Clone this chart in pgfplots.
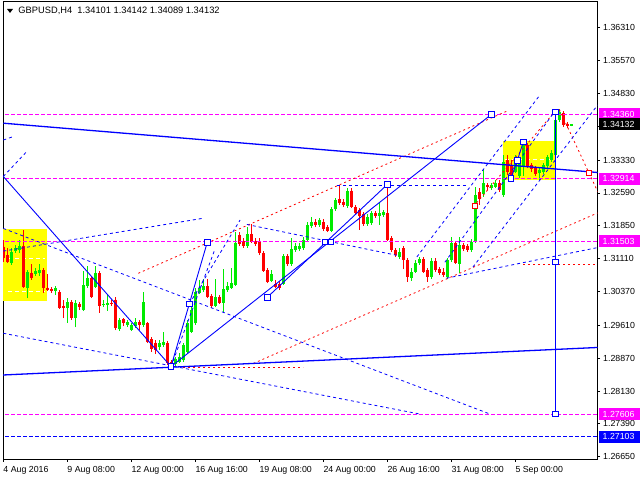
\documentclass[border=0pt]{standalone}
\usepackage{pgfplots}
\pgfplotsset{compat=1.18}
\usepackage{pgfplotstable}
\usepackage{fontspec}
\setmainfont{Liberation Sans}
\newcommand\mtfont{\fontsize{8.8bp}{10bp}\selectfont}
\newcommand\ttlfont{\fontsize{9.3bp}{10bp}\selectfont}
\definecolor{bull}{RGB}{0,235,0}
\definecolor{bear}{RGB}{255,0,0}
\definecolor{mag}{RGB}{255,0,255}
\definecolor{mtblue}{RGB}{0,0,255}
\definecolor{mtyellow}{RGB}{255,255,0}

\pgfplotstableread{
i o h l c
2 1.3101 1.3135 1.3097 1.3127
3 1.3128 1.3142 1.3124 1.3136
4 1.3131 1.3153 1.3124 1.3140
6 1.3046 1.3085 1.3022 1.3080
8 1.3077 1.3090 1.3072 1.3083
9 1.3079 1.3099 1.3072 1.3085
13 1.3038 1.3049 1.3029 1.3046
16 1.2999 1.3022 1.2966 1.3014
18 1.2978 1.3018 1.2956 1.3011
20 1.2995 1.3083 1.2993 1.3052
21 1.3049 1.3095 1.3045 1.3068
23 1.3048 1.3095 1.3045 1.3079
25 1.3007 1.3018 1.3002 1.3010
26 1.3007 1.3029 1.2994 1.3012
29 1.2952 1.2977 1.2948 1.2973
31 1.2962 1.2973 1.2957 1.2969
32 1.2950 1.2966 1.2948 1.2961
33 1.2959 1.2977 1.2955 1.2969
35 1.2962 1.3035 1.2957 1.3014
39 1.2911 1.2928 1.2905 1.2922
40 1.2917 1.2946 1.2912 1.2924
43 1.2874 1.2890 1.2869 1.2884
44 1.2879 1.2899 1.2876 1.2890
45 1.2883 1.2921 1.2878 1.2917
46 1.2901 1.2973 1.2899 1.2965
47 1.2946 1.3007 1.2944 1.2995
48 1.2965 1.3045 1.2962 1.3037
49 1.3034 1.3063 1.3031 1.3046
50 1.3040 1.3065 1.3036 1.3049
53 1.3004 1.3065 1.3002 1.3025
55 1.3012 1.3087 1.2989 1.3042
56 1.3040 1.3059 1.3036 1.3049
57 1.3046 1.3090 1.3043 1.3057
58 1.3052 1.3172 1.3049 1.3146
61 1.3140 1.3183 1.3135 1.3167
67 1.3061 1.3085 1.3058 1.3076
70 1.3055 1.3122 1.3052 1.3117
72 1.3099 1.3157 1.3095 1.3132
73 1.3131 1.3146 1.3126 1.3140
74 1.3132 1.3146 1.3128 1.3140
75 1.3134 1.3160 1.3131 1.3153
76 1.3153 1.3193 1.3149 1.3187
77 1.3185 1.3205 1.3180 1.3194
79 1.3187 1.3203 1.3182 1.3198
82 1.3174 1.3227 1.3171 1.3222
83 1.3222 1.3248 1.3218 1.3242
86 1.3230 1.3270 1.3225 1.3264
91 1.3189 1.3212 1.3185 1.3205
92 1.3191 1.3218 1.3187 1.3213
94 1.3208 1.3236 1.3187 1.3213
95 1.3209 1.3221 1.3205 1.3215
99 1.3114 1.3134 1.3110 1.3127
102 1.3067 1.3090 1.3061 1.3082
103 1.3082 1.3108 1.3079 1.3102
104 1.3101 1.3115 1.3097 1.3110
107 1.3070 1.3113 1.3065 1.3106
111 1.3069 1.3113 1.3065 1.3108
112 1.3108 1.3160 1.3103 1.3146
114 1.3099 1.3160 1.3078 1.3142
117 1.3131 1.3155 1.3126 1.3149
118 1.3149 1.3273 1.3146 1.3254
120 1.3257 1.3313 1.3250 1.3281
122 1.3269 1.3281 1.3266 1.3277
123 1.3273 1.3288 1.3270 1.3282
125 1.3254 1.3344 1.3250 1.3329
128 1.3307 1.3344 1.3304 1.3337
129 1.3297 1.3340 1.3293 1.3333
130 1.3318 1.3378 1.3297 1.3371
134 1.3303 1.3315 1.3288 1.3311
135 1.3307 1.3326 1.3302 1.3322
136 1.3320 1.3344 1.3315 1.3339
137 1.3333 1.3356 1.3329 1.3348
138 1.3344 1.3428 1.3340 1.3423
139 1.3423 1.3447 1.3419 1.3442
142 1.34101 1.34142 1.34089 1.34132
}\bulls

\pgfplotstableread{
i o h l c
0 1.3138 1.3153 1.3103 1.3112
1 1.3119 1.3135 1.3101 1.3103
5 1.3140 1.3176 1.3045 1.3048
7 1.3078 1.3098 1.3063 1.3067
10 1.3085 1.3090 1.3034 1.3044
11 1.3046 1.3076 1.3038 1.3040
12 1.3043 1.3047 1.3034 1.3038
14 1.3035 1.3040 1.2998 1.3001
15 1.3005 1.3018 1.2977 1.2999
17 1.3013 1.3018 1.2973 1.2978
19 1.3010 1.3013 1.2995 1.3002
22 1.3068 1.3072 1.3022 1.3025
24 1.3078 1.3083 1.2989 1.3005
27 1.3012 1.3018 1.3004 1.3009
28 1.3019 1.3025 1.2950 1.2954
30 1.2975 1.2977 1.2959 1.2965
34 1.2969 1.2973 1.2950 1.2962
36 1.2965 1.2968 1.2921 1.2924
37 1.2929 1.2935 1.2901 1.2907
38 1.2922 1.2928 1.2896 1.2905
41 1.2920 1.2926 1.2872 1.2875
42 1.2879 1.2883 1.2867 1.2872
51 1.3049 1.3065 1.3022 1.3024
52 1.3027 1.3031 1.3000 1.3004
54 1.3024 1.3029 1.3009 1.3012
59 1.3165 1.3172 1.3140 1.3144
60 1.3151 1.3158 1.3135 1.3140
62 1.3167 1.3189 1.3146 1.3149
63 1.3151 1.3158 1.3140 1.3144
64 1.3151 1.3158 1.3119 1.3123
65 1.3123 1.3128 1.3081 1.3084
66 1.3085 1.3090 1.3056 1.3059
68 1.3054 1.3063 1.3045 1.3048
69 1.3055 1.3061 1.3040 1.3044
71 1.3117 1.3122 1.3095 1.3099
78 1.3194 1.3200 1.3182 1.3187
80 1.3194 1.3200 1.3173 1.3177
81 1.3182 1.3187 1.3171 1.3174
84 1.3245 1.3277 1.3232 1.3236
85 1.3239 1.3245 1.3227 1.3232
87 1.3264 1.3270 1.3225 1.3228
88 1.3227 1.3232 1.3212 1.3214
89 1.3221 1.3225 1.3176 1.3207
90 1.3212 1.3216 1.3185 1.3189
93 1.3213 1.3218 1.3203 1.3208
96 1.3214 1.3277 1.3151 1.3153
97 1.3157 1.3162 1.3126 1.3131
98 1.3131 1.3135 1.3115 1.3119
100 1.3134 1.3140 1.3087 1.3108
101 1.3108 1.3113 1.3059 1.3069
105 1.3110 1.3115 1.3079 1.3082
106 1.3085 1.3090 1.3059 1.3070
108 1.3106 1.3113 1.3081 1.3085
109 1.3087 1.3092 1.3074 1.3079
110 1.3082 1.3089 1.3070 1.3074
113 1.3146 1.3151 1.3099 1.3102
115 1.3142 1.3146 1.3128 1.3132
116 1.3140 1.3144 1.3126 1.3131
119 1.3261 1.3270 1.3232 1.3245
121 1.3277 1.3281 1.3266 1.3272
124 1.3282 1.3288 1.3262 1.3266
126 1.3332 1.3344 1.3299 1.3305
127 1.3322 1.3333 1.3295 1.3299
131 1.3367 1.3372 1.3315 1.3320
132 1.3322 1.3326 1.3306 1.3312
133 1.3314 1.3319 1.3297 1.3302
140 1.3438 1.3444 1.3407 1.3412
141 1.3414 1.3419 1.3405 1.3410
}\bears

\begin{document}
\begin{tikzpicture}
\begin{axis}[
  name=ax,
  scale only axis, width=594.5bp, height=457.3bp,
  xmin=-0.075, xmax=148.55, ymin=1.26592, ymax=1.36889,
  clip mode=individual,
  axis line style={black, line width=1bp},
  xtick={0,16,32,48,64,80,96,112,128},
  xticklabels={4 Aug 2016, 9 Aug 08:00, 12 Aug 00:00, 16 Aug 16:00, 19 Aug 08:00, 24 Aug 00:00, 26 Aug 16:00, 31 Aug 08:00, 5 Sep 00:00},
  xtick pos=bottom,
  ytick={1.2665,1.2739,1.2813,1.2887,1.2961,1.3037,1.3111,1.3185,1.3259,1.3333,1.3409,1.3483,1.3557,1.3631},
  yticklabels={1.26650,1.27390,1.28130,1.28870,1.29610,1.30370,1.31110,1.31850,1.32590,1.33330,{},1.34830,1.35570,1.36310},
  ytick pos=right, yticklabel pos=right,
  tick align=outside, major tick length=2.5bp,
  tick style={black, line width=0.8bp},
  xticklabel style={font=\mtfont, anchor=north west, inner sep=0pt, yshift=-4bp},
  yticklabel style={font=\mtfont, anchor=west, inner sep=0pt, xshift=3bp},
  scaled y ticks=false,
]
% yellow rectangles
\addplot[fill=mtyellow, draw=none] coordinates {(-0.15,1.3178) (10.85,1.3178) (10.85,1.3016) (-0.15,1.3016)} -- cycle;
\addplot[fill=mtyellow, draw=none] coordinates {(125,1.3376) (137.9,1.3376) (137.9,1.3289) (125,1.3289)} -- cycle;
\addplot[white, line width=0.8bp, dash pattern=on 4bp off 3bp] coordinates {(1.2,1.3112) (10.5,1.3112)};
\addplot[white, line width=0.8bp, dash pattern=on 4bp off 3bp] coordinates {(1.2,1.3038) (10.5,1.3038)};
\addplot[white, line width=0.8bp, dash pattern=on 4bp off 3bp] coordinates {(125.5,1.3335) (137.5,1.3335)};

% candles: wicks (low to high) and bodies (open to close)
\addplot[bull, line width=1bp, line cap=butt, quiver={u=0, v=\thisrow{h}-\thisrow{l}}] table[x=i, y=l] {\bulls};
\addplot[bear, line width=1bp, line cap=butt, quiver={u=0, v=\thisrow{h}-\thisrow{l}}] table[x=i, y=l] {\bears};
\addplot[bull, line width=3.2bp, line cap=butt, quiver={u=0, v=\thisrow{c}-\thisrow{o}}] table[x=i, y=o] {\bulls};
\addplot[bear, line width=3.2bp, line cap=butt, quiver={u=0, v=\thisrow{c}-\thisrow{o}}] table[x=i, y=o] {\bears};

% magenta levels
\addplot[mag, line width=0.8bp, dash pattern=on 4bp off 2bp] coordinates {(-1,1.34360) (150,1.34360)};
\addplot[mag, line width=0.8bp, dash pattern=on 4bp off 2bp] coordinates {(-1,1.32914) (150,1.32914)};
\addplot[mag, line width=0.8bp, dash pattern=on 4bp off 2bp] coordinates {(-1,1.31503) (150,1.31503)};
\addplot[mag, line width=0.8bp, dash pattern=on 4bp off 2bp] coordinates {(-1,1.27606) (150,1.27606)};
\addplot[mtblue, line width=0.8bp, dash pattern=on 4bp off 2bp] coordinates {(-1,1.27103) (150,1.27103)};

% red dashed lines
\addplot[bear, line width=0.8bp, dash pattern=on 2bp off 3bp] coordinates {(33.75,1.3078) (125.85,1.3443)};
\addplot[bear, line width=0.8bp, dash pattern=on 2bp off 3bp] coordinates {(62.5,1.2875) (148.6,1.3214)};
\addplot[bear, line width=0.8bp, dash pattern=on 2bp off 3bp] coordinates {(45,1.2867) (75,1.2867)};
\addplot[bear, line width=0.8bp, dash pattern=on 2bp off 3bp] coordinates {(130,1.3099) (148.6,1.3099)};
\addplot[bear, line width=0.8bp, dash pattern=on 2bp off 3bp] coordinates {(139,1.3447) (148.6,1.3262)};
\addplot[bear, line width=0.8bp, dash pattern=on 2bp off 3bp] coordinates {(117.5,1.3228) (137.5,1.3438)};

% blue dashed lines
\addplot[mtblue, line width=0.8bp, dash pattern=on 3bp off 3bp] coordinates {(0,1.3378) (2.2,1.3385)};
\addplot[mtblue, line width=0.8bp, dash pattern=on 3bp off 3bp] coordinates {(0,1.3296) (5.85,1.3352)};
\addplot[mtblue, line width=0.8bp, dash pattern=on 3bp off 3bp] coordinates {(0,1.3179) (121.7,1.2761)};
\addplot[mtblue, line width=0.8bp, dash pattern=on 3bp off 3bp] coordinates {(0,1.2943) (104.2,1.2761)};
\addplot[mtblue, line width=0.8bp, dash pattern=on 3bp off 3bp] coordinates {(0,1.3128) (50,1.3202)};
\addplot[mtblue, line width=0.8bp, dash pattern=on 3bp off 3bp] coordinates {(83.4,1.3275) (115.9,1.3275)};
\addplot[mtblue, line width=0.8bp, dash pattern=on 3bp off 3bp] coordinates {(60.9,1.3188) (99.2,1.3117)};
\addplot[mtblue, line width=0.8bp, dash pattern=on 3bp off 3bp] coordinates {(41.93,1.2868) (52.9,1.3132)};
\addplot[mtblue, line width=0.8bp, dash pattern=on 3bp off 3bp] coordinates {(46.5,1.3009) (59.2,1.3198)};
\addplot[mtblue, line width=0.8bp, dash pattern=on 3bp off 3bp] coordinates {(103.4,1.3115) (134.2,1.3480)};
\addplot[mtblue, line width=0.8bp, dash pattern=on 3bp off 3bp] coordinates {(110.4,1.3103) (137.5,1.3438)};
\addplot[mtblue, line width=0.8bp, dash pattern=on 3bp off 3bp] coordinates {(117.4,1.3092) (148.6,1.3457)};
\addplot[mtblue, line width=0.8bp, dash pattern=on 3bp off 3bp] coordinates {(110.8,1.3067) (148.6,1.3136)};

% solid blue lines
\addplot[mtblue, line width=1.3bp] coordinates {(0,1.3416) (148.6,1.3305)};
\addplot[mtblue, line width=1.3bp] coordinates {(-0.1,1.2849) (148.6,1.2911)};
\addplot[mtblue, line width=0.9bp] coordinates {(0,1.3296) (41.93,1.2868)};
\addplot[mtblue, line width=0.9bp] coordinates {(41.93,1.2868) (51,1.3148)};
\addplot[mtblue, line width=0.9bp] coordinates {(41.93,1.2868) (122.05,1.3436)};
\addplot[mtblue, line width=0.9bp] coordinates {(66,1.3024) (96,1.3278)};
\addplot[mtblue, line width=0.9bp] coordinates {(126.9,1.3291) (128.5,1.3332) (130,1.3374)};
\addplot[mtblue, line width=1.4bp] coordinates {(138.05,1.3441) (138.05,1.2761)};

% squares
\addplot[only marks, mark=square*, mark size=2.8bp, mark options={fill=white, draw=mtblue, line width=0.9bp}]
 coordinates {(41.93,1.2868) (46.5,1.3009) (51,1.3148) (66,1.3024) (80.4,1.3149) (81.9,1.3149) (96,1.3278) (122.05,1.3436) (126.9,1.3291) (128.5,1.3332) (130,1.3374) (138.05,1.3441) (138.05,1.3104) (138.05,1.2761)};
\addplot[only marks, mark=square*, mark size=2.5bp, mark options={fill=white, draw=bear, line width=0.8bp}]
 coordinates {(117.9,1.3230) (146.5,1.3303)};

\coordinate (r1) at (axis cs:148.55,1.34360);
\coordinate (r2) at (axis cs:148.55,1.34132);
\coordinate (r3) at (axis cs:148.55,1.32914);
\coordinate (r4) at (axis cs:148.55,1.31503);
\coordinate (r5) at (axis cs:148.55,1.27606);
\coordinate (r6) at (axis cs:148.55,1.27103);
\end{axis}
\begin{scope}[every node/.style={anchor=west, font=\mtfont, text=white, inner xsep=3.5bp, inner ysep=0pt, minimum height=12bp, text width=34bp}]
\node[fill=mag] at ([xshift=1.5bp]r1) {1.34360};
\node[fill=black] at ([xshift=1.5bp]r2) {1.34132};
\node[fill=mag] at ([xshift=1.5bp]r3) {1.32914};
\node[fill=mag] at ([xshift=1.5bp]r4) {1.31503};
\node[fill=mag] at ([xshift=1.5bp]r5) {1.27606};
\node[fill=mtblue] at ([xshift=1.5bp]r6) {1.27103};
\end{scope}
\fill ([shift={(4bp,-7bp)}]ax.north west) -- ++(6bp,0) -- ++(-3bp,-4bp) -- cycle;
\node[anchor=west, inner sep=0pt, font=\ttlfont] at ([shift={(15.3bp,-8.7bp)}]ax.north west) {GBPUSD,H4\ \ 1.34101 1.34142 1.34089 1.34132};
\pgfresetboundingbox
\path[use as bounding box] ([shift={(-3bp,-20.7bp)}]ax.south west) rectangle ([shift={(42.5bp,2bp)}]ax.north east);
\end{tikzpicture}
\end{document}
